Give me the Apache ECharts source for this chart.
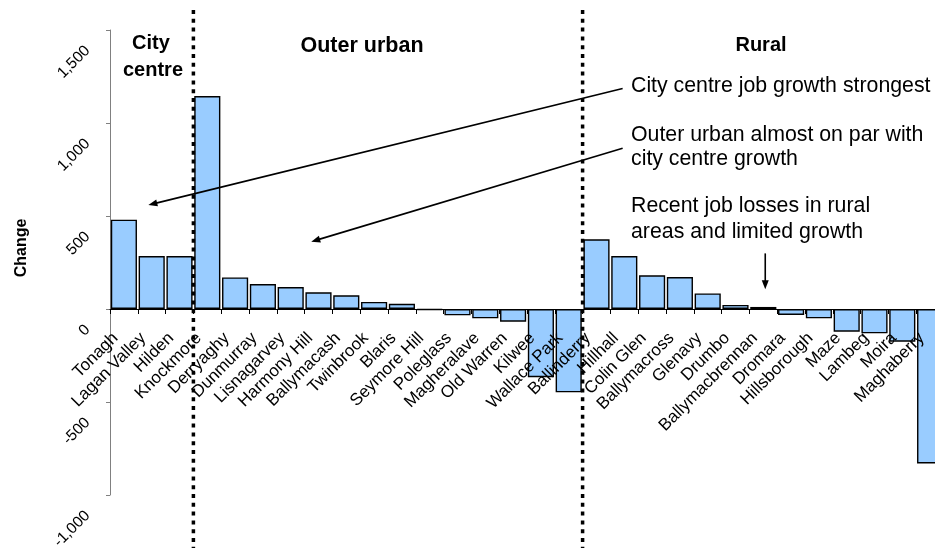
<!DOCTYPE html>
<html>
<head>
<meta charset="utf-8">
<script src="https://cdn.jsdelivr.net/npm/echarts@6/dist/echarts.min.js"></script>
<style>
  html, body { margin: 0; padding: 0; background: #fff; }
  #chart { width: 935px; height: 548px; }
</style>
</head>
<body>
<div id="chart"></div>
<script>
// Job change by area, grouped into city centre / outer urban / rural
const areas = [
  'Tonagh', 'Lagan Valley', 'Hilden', 'Knockmore', 'Derryaghy', 'Dunmurray',
  'Lisnagarvey', 'Harmony Hill', 'Ballymacash', 'Twinbrook', 'Blaris',
  'Seymore Hill', 'Poleglass', 'Magheralave', 'Old Warren', 'Kilwee',
  'Wallace Park', 'Ballinderry', 'Hillhall', 'Colin Glen', 'Ballymacross',
  'Glenavy', 'Drumbo', 'Ballymacbrennan', 'Dromara', 'Hillsborough',
  'Maze', 'Lambeg', 'Moira', 'Maghaberry'
];
const jobChange = [
  480, 285, 285, 1145, 170, 134,
  118, 90, 74, 38, 28,
  -5, -34, -50, -68, -367,
  -448, 375, 285, 181, 172,
  84, 22, 11, -32, -50,
  -122, -131, -176, -830
];
const valueTicks = [-1000, -500, 0, 500, 1000, 1500];

// first category of the outer urban and rural groups
const groupBreaks = [3, 17];

const FONT = '"Liberation Sans", Arial, Helvetica, sans-serif';

const chart = echarts.init(document.getElementById('chart'), null, { renderer: 'canvas' });

const option = {
  animation: false,
  backgroundColor: '#ffffff',
  grid: {
    left: 110, right: -9, top: 30, bottom: 53,
    containLabel: false, outerBoundsMode: 'none'
  },
  xAxis: {
    type: 'category',
    data: areas,
    z: 3,
    offset: 0,
    axisLine: { show: true, onZero: false, lineStyle: { color: '#000', width: 1 } },
    axisTick: { show: true, length: 5, lineStyle: { color: '#000', width: 1 } },
    axisLabel: {
      show: true, interval: 0, rotate: 45, margin: 18, padding: [0, 12, 0, 0],
      fontSize: 17, color: '#000', fontFamily: FONT
    },
    splitLine: { show: false }
  },
  yAxis: {
    type: 'value',
    min: valueTicks[0],
    max: valueTicks[valueTicks.length - 1],
    interval: valueTicks[1] - valueTicks[0],
    axisLine: { show: true, lineStyle: { color: '#808080', width: 1 } },
    axisTick: { show: true, length: 4, lineStyle: { color: '#808080', width: 1 } },
    axisLabel: {
      show: true, rotate: 45, margin: 4, padding: [0, 26, 0, 0],
      fontSize: 15.5, color: '#000', fontFamily: FONT,
      formatter: v => v.toLocaleString('en-US')
    },
    splitLine: { show: false }
  },
  series: [{
    type: 'bar',
    data: jobChange,
    barCategoryGap: '6%',
    itemStyle: { color: '#99CCFF', borderColor: '#000', borderWidth: 1.4 }
  }]
};
chart.setOption(option);

// pixel helpers through the chart's own axes
function catX(pos) {
  const i = Math.floor(pos), f = pos - i;
  const a = chart.convertToPixel({ xAxisIndex: 0 }, i);
  const b = chart.convertToPixel({ xAxisIndex: 0 }, i + 1);
  return a + (b - a) * f;
}
function valY(v) { return chart.convertToPixel({ yAxisIndex: 0 }, v); }

// lift the whole category axis (line, ticks and labels) onto the zero value
chart.setOption({ xAxis: { offset: -(valY(valueTicks[0]) - valY(0)) } });

const graphics = [];

// dotted separators between the groups
groupBreaks.forEach(k => {
  const x = catX(k - 0.5);
  graphics.push({
    type: 'line', z: 10,
    shape: { x1: x, y1: 10, x2: x, y2: 548 },
    style: { stroke: '#000', lineWidth: 3.5, lineDash: [4, 4.8] }
  });
});

// arrows: [category position, value] from -> to
const arrows = [
  [[17.94, 1186], [0.88, 559]],
  [[17.94, 864], [6.74, 362]],
  [[23.07, 299], [23.07, 106]]
];
arrows.forEach(([s, t]) => {
  const sx = catX(s[0]), sy = valY(s[1]);
  const tx = catX(t[0]), ty = valY(t[1]);
  const dx = tx - sx, dy = ty - sy, len = Math.hypot(dx, dy);
  const ux = dx / len, uy = dy / len, nx = -uy, ny = ux;
  const L = 9, W = 3.5;
  const bx = tx - ux * L, by = ty - uy * L;
  graphics.push({
    type: 'line', z: 10,
    shape: { x1: sx, y1: sy, x2: bx + ux * 1, y2: by + uy * 1 },
    style: { stroke: '#000', lineWidth: 1.6 }
  });
  graphics.push({
    type: 'polygon', z: 10,
    shape: { points: [[tx, ty], [bx + nx * W, by + ny * W], [bx - nx * W, by - ny * W]] },
    style: { fill: '#000' }
  });
});

function txt(text, x, y, size, weight, align) {
  return {
    type: 'text', z: 11,
    style: {
      text: text, x: x, y: y, fill: '#000',
      font: weight + ' ' + size + 'px ' + FONT,
      align: align, verticalAlign: 'middle'
    }
  };
}

// group headings
graphics.push(txt('City', 151, 43, 20, 'bold', 'center'));
graphics.push(txt('centre', 153, 70, 20, 'bold', 'center'));
graphics.push(txt('Outer urban', 362, 46, 21.5, 'bold', 'center'));
graphics.push(txt('Rural', 761, 45, 20, 'bold', 'center'));

// commentary
const NOTE = 21.3;
graphics.push(txt('City centre job growth strongest', 631, 86.6, NOTE, 'normal', 'left'));
graphics.push(txt('Outer urban almost on par with', 631, 135.3, NOTE, 'normal', 'left'));
graphics.push(txt('city centre growth', 631, 159.3, NOTE, 'normal', 'left'));
graphics.push(txt('Recent job losses in rural', 631, 205.9, NOTE, 'normal', 'left'));
graphics.push(txt('areas and limited growth', 631, 232.6, NOTE, 'normal', 'left'));

// value axis title
graphics.push({
  type: 'text', z: 11,
  x: 22, y: 248, rotation: Math.PI / 2,
  style: {
    text: 'Change', x: 0, y: 0, fill: '#000',
    font: 'bold 16px ' + FONT, align: 'center', verticalAlign: 'middle'
  }
});

chart.setOption({ graphic: { elements: graphics } });
</script>
</body>
</html>
